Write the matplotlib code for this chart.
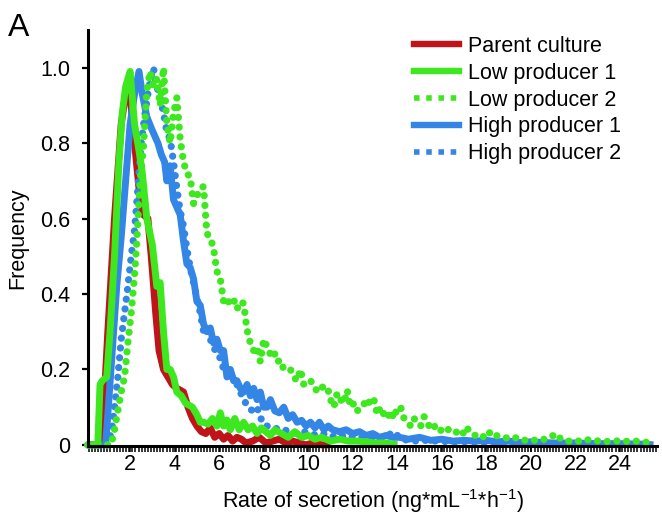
import matplotlib
matplotlib.use("Agg")
import matplotlib.pyplot as plt
from matplotlib.ticker import MultipleLocator, FixedLocator
from matplotlib.lines import Line2D

plt.rcParams['font.family'] = ['Liberation Sans', 'DejaVu Sans']

# ---- data (x = rate of secretion, y = normalised frequency) ----
parent = [(0.1, 0), (0.65, 0), (0.8, 0.08), (1.0, 0.3), (1.3, 0.6), (1.6, 0.85), (1.8, 0.93),
          (1.95, 0.96), (2.2, 0.8), (2.45, 0.65), (2.6, 0.61), (2.8, 0.6), (2.95, 0.5),
          (3.15, 0.35), (3.3, 0.25), (3.5, 0.2), (3.7, 0.18), (3.9, 0.16), (4.1, 0.15),
          (4.4, 0.14), (4.6, 0.1), (4.8, 0.07), (5.0, 0.05), (5.2, 0.035), (5.4, 0.03),
          (5.6, 0.045), (5.8, 0.02), (6.0, 0.03), (6.2, 0.015), (6.4, 0.025), (6.6, 0.01),
          (6.8, 0.02), (7.0, 0.015), (7.2, 0.005), (7.5, 0.01), (7.8, 0.02), (8.1, 0.005),
          (8.4, 0.01), (8.7, 0.015), (9.0, 0.005), (9.3, 0.01), (9.6, 0.005), (9.9, 0.0),
          (10.2, 0.005), (10.6, 0.0), (11.0, 0.0)]

low1 = [(0.1, 0), (0.55, 0), (0.65, 0.16), (0.75, 0.17), (0.95, 0.18), (1.1, 0.3), (1.3, 0.5),
        (1.5, 0.75), (1.65, 0.88), (1.8, 0.95), (2.0, 0.99), (2.2, 0.85), (2.4, 0.78),
        (2.55, 0.72), (2.75, 0.6), (3.0, 0.53), (3.2, 0.42), (3.35, 0.43), (3.5, 0.3),
        (3.65, 0.2), (3.8, 0.2), (3.95, 0.18), (4.1, 0.14), (4.3, 0.13), (4.5, 0.11),
        (4.8, 0.1), (5.0, 0.08), (5.15, 0.06), (5.3, 0.06), (5.5, 0.055), (5.7, 0.07),
        (5.9, 0.05), (6.05, 0.085), (6.2, 0.05), (6.35, 0.066), (6.5, 0.04), (6.7, 0.07),
        (6.9, 0.04), (7.1, 0.06), (7.3, 0.04), (7.5, 0.05), (7.7, 0.03), (7.9, 0.045),
        (8.1, 0.035), (8.3, 0.025), (8.5, 0.04), (8.8, 0.03), (9.1, 0.02), (9.4, 0.035),
        (9.7, 0.02), (10.0, 0.025), (10.3, 0.015), (10.6, 0.02), (11.0, 0.01), (11.4, 0.015),
        (11.8, 0.01), (12.2, 0.01), (12.6, 0.008), (13.0, 0.005), (13.5, 0.005), (14.0, 0.0)]

low2 = [(0.1, 0), (1.15, 0), (1.3, 0.04), (1.45, 0.09), (1.6, 0.14), (1.75, 0.18), (1.9, 0.27),
        (2.05, 0.35), (2.2, 0.45), (2.3, 0.54), (2.45, 0.7), (2.6, 0.79), (2.75, 0.94),
        (2.9, 0.99), (3.05, 0.95), (3.2, 0.97), (3.35, 0.9), (3.5, 1.0), (3.65, 0.85),
        (3.8, 0.8), (3.95, 0.88), (4.1, 0.92), (4.25, 0.81), (4.4, 0.75), (4.55, 0.72),
        (4.7, 0.71), (4.85, 0.64), (5.0, 0.66), (5.15, 0.68), (5.3, 0.685), (5.45, 0.56),
        (5.6, 0.55), (5.75, 0.52), (5.9, 0.46), (6.05, 0.44), (6.2, 0.38), (6.35, 0.37),
        (6.5, 0.39), (6.65, 0.385), (6.8, 0.36), (6.95, 0.38), (7.1, 0.375), (7.25, 0.305),
        (7.4, 0.27), (7.55, 0.25), (7.7, 0.26), (7.85, 0.22), (8.0, 0.28), (8.15, 0.26),
        (8.3, 0.24), (8.45, 0.25), (8.6, 0.22), (8.75, 0.225), (8.9, 0.2), (9.05, 0.2),
        (9.2, 0.2), (9.35, 0.18), (9.5, 0.17), (9.65, 0.2), (9.8, 0.16), (9.95, 0.16),
        (10.1, 0.17), (10.25, 0.16), (10.4, 0.14), (10.55, 0.15), (10.7, 0.155),
        (10.85, 0.155), (11.0, 0.12), (11.15, 0.1), (11.3, 0.137), (11.45, 0.12),
        (11.6, 0.11), (11.75, 0.145), (11.9, 0.1), (12.05, 0.11), (12.2, 0.09), (12.35, 0.1),
        (12.5, 0.11), (12.65, 0.1), (12.8, 0.125), (12.95, 0.12), (13.1, 0.08), (13.25, 0.1),
        (13.4, 0.08), (13.55, 0.07), (13.7, 0.09), (13.85, 0.07), (14.0, 0.1), (14.15, 0.1),
        (14.3, 0.07), (14.45, 0.06), (14.6, 0.05), (14.75, 0.07), (14.9, 0.06), (15.05, 0.05),
        (15.2, 0.075), (15.35, 0.06), (15.5, 0.04), (15.7, 0.05), (15.9, 0.035), (16.1, 0.048),
        (16.3, 0.04), (16.5, 0.03), (16.7, 0.035), (16.9, 0.025), (17.1, 0.048), (17.3, 0.03),
        (17.5, 0.025), (17.7, 0.03), (17.9, 0.02), (18.1, 0.035), (18.3, 0.02), (18.5, 0.025),
        (18.8, 0.02), (19.1, 0.015), (19.4, 0.02), (19.7, 0.012), (20.0, 0.015), (20.3, 0.01),
        (20.6, 0.015), (20.9, 0.02), (21.1, 0.03), (21.4, 0.012), (21.7, 0.01), (22.0, 0.012),
        (22.3, 0.008), (22.6, 0.014), (22.9, 0.01), (23.2, 0.012), (23.5, 0.008), (23.8, 0.01),
        (24.1, 0.012), (24.4, 0.008), (24.7, 0.01), (25.0, 0.008), (25.3, 0.006), (25.5, 0.0)]

high1 = [(0.1, 0), (0.9, 0), (1.0, 0.08), (1.2, 0.25), (1.4, 0.42), (1.6, 0.55), (1.8, 0.7),
         (2.0, 0.85), (2.2, 0.93), (2.4, 0.99), (2.55, 0.93), (2.75, 0.87), (2.95, 0.84),
         (3.1, 0.82), (3.25, 0.8), (3.4, 0.77), (3.55, 0.75), (3.65, 0.7), (3.8, 0.74),
         (3.95, 0.65), (4.1, 0.63), (4.25, 0.61), (4.4, 0.54), (4.55, 0.48), (4.7, 0.47),
         (4.85, 0.44), (5.0, 0.38), (5.15, 0.37), (5.3, 0.32), (5.45, 0.3), (5.6, 0.31),
         (5.75, 0.27), (5.9, 0.28), (6.05, 0.25), (6.2, 0.25), (6.35, 0.18), (6.5, 0.2),
         (6.65, 0.17), (6.8, 0.17), (6.95, 0.15), (7.1, 0.14), (7.25, 0.16), (7.4, 0.13),
         (7.55, 0.15), (7.7, 0.12), (7.85, 0.14), (8.0, 0.1), (8.15, 0.1), (8.3, 0.12),
         (8.5, 0.09), (8.7, 0.085), (8.9, 0.1), (9.1, 0.07), (9.3, 0.08), (9.5, 0.06),
         (9.7, 0.065), (9.9, 0.05), (10.1, 0.06), (10.3, 0.045), (10.5, 0.06), (10.7, 0.04),
         (10.9, 0.05), (11.1, 0.04), (11.4, 0.035), (11.7, 0.04), (12.0, 0.03), (12.3, 0.035),
         (12.6, 0.025), (12.9, 0.03), (13.2, 0.02), (13.5, 0.025), (13.8, 0.02), (14.1, 0.02),
         (14.5, 0.015), (15.0, 0.02), (15.5, 0.012), (16.0, 0.015), (16.5, 0.01), (17.0, 0.012),
         (17.5, 0.01), (18.0, 0.012), (18.5, 0.008), (19.0, 0.01), (19.5, 0.006), (20.0, 0.008),
         (21.0, 0.005), (22.0, 0.005), (23.0, 0.003), (24.0, 0.003), (25.0, 0.002), (25.5, 0.0)]

high2 = [(0.1, 0), (1.0, 0), (1.1, 0.02), (1.2, 0.05), (1.3, 0.1), (1.45, 0.18), (1.6, 0.28),
         (1.75, 0.35), (1.9, 0.42), (2.05, 0.5), (2.2, 0.57), (2.35, 0.68), (2.5, 0.8),
         (2.65, 0.87), (2.8, 0.93), (2.95, 0.98), (3.05, 1.0), (3.2, 0.95), (3.35, 0.92),
         (3.5, 0.88), (3.65, 0.83), (3.8, 0.81), (3.95, 0.75), (4.1, 0.68), (4.25, 0.62),
         (4.4, 0.58), (4.55, 0.52), (4.7, 0.47), (4.85, 0.43), (5.0, 0.39), (5.15, 0.35),
         (5.3, 0.3), (5.45, 0.31), (5.6, 0.28), (5.75, 0.26), (5.9, 0.24), (6.05, 0.23),
         (6.2, 0.2), (6.35, 0.19), (6.5, 0.17), (6.65, 0.18), (6.8, 0.16), (6.95, 0.14),
         (7.1, 0.12), (7.3, 0.1), (7.5, 0.09), (7.7, 0.1), (7.9, 0.066), (8.1, 0.05),
         (8.3, 0.05), (8.5, 0.045), (8.7, 0.04), (8.9, 0.04), (9.2, 0.035), (9.5, 0.03),
         (9.8, 0.035), (10.1, 0.03), (10.4, 0.025), (10.8, 0.03), (11.2, 0.02), (11.6, 0.025),
         (12.0, 0.02), (12.5, 0.02), (13.0, 0.015), (13.5, 0.02), (13.8, 0.035), (14.2, 0.015),
         (14.7, 0.01), (15.2, 0.012), (15.8, 0.01), (16.5, 0.008), (17.2, 0.008), (18.0, 0.006),
         (19.0, 0.005), (20.0, 0.004), (21.0, 0.003), (22.0, 0.003), (23.0, 0.002),
         (24.0, 0.002), (25.0, 0.0)]

labels = ["Parent culture", "Low producer 1", "Low producer 2", "High producer 1", "High producer 2"]
x_ticks = [2, 4, 6, 8, 10, 12, 14, 16, 18, 20, 22, 24]
y_ticks = [0, 0.2, 0.4, 0.6, 0.8, 1.0]
y_ticklabels = ["0", "0.2", "0.4", "0.6", "0.8", "1.0"]

RED = "#c0131a"
GREEN = "#3de81e"
BLUE = "#3486e6"

W, H = 662, 529
fig = plt.figure(figsize=(W / 100, H / 100), dpi=100)
ax = fig.add_axes([88 / W, 83 / H, (657 - 88) / W, (499 - 83) / H])

dot = (0, (0.01, 1.35))
series = [
    (parent, RED, '-', 2),
    (high1, BLUE, '-', 3),
    (high2, BLUE, dot, 4),
    (low1, GREEN, '-', 5),
    (low2, GREEN, dot, 6),
]
for data, col, ls, z in series:
    xs = [p[0] for p in data]
    ys = [p[1] for p in data]
    if ls == '-':
        ax.plot(xs, ys, color=col, lw=5.0, ls=ls, zorder=z, solid_joinstyle='round',
                solid_capstyle='butt', clip_on=False)
    else:
        ax.plot(xs, ys, color=col, lw=5.2, ls=ls, zorder=z, dash_capstyle='round',
                clip_on=False)

ax.set_xlim(0.11, 25.66)
ax.set_ylim(-0.003, 1.10)
for s in ['top', 'right']:
    ax.spines[s].set_visible(False)
for s in ['left', 'bottom']:
    ax.spines[s].set_linewidth(2.2)
    ax.spines[s].set_zorder(10)

ax.xaxis.set_major_locator(FixedLocator(x_ticks))
ax.xaxis.set_minor_locator(MultipleLocator(0.14))
ax.set_xticks(x_ticks)
ax.set_xticklabels([str(t) for t in x_ticks])
ax.set_yticks(y_ticks)
ax.set_yticklabels(y_ticklabels)
ax.tick_params(axis='x', which='both', direction='out', length=4, width=1.1, pad=1.5,
               labelsize=15.5)
ax.tick_params(axis='y', which='major', direction='out', length=4, width=1.6, pad=9,
               labelsize=15.5)

ax.set_xlabel(r"Rate of secretion (ng*mL$^{\mathregular{-1}}$*h$^{\mathregular{-1}}$)",
              fontsize=15.5, labelpad=9)
ax.set_ylabel("Frequency", fontsize=15.5, labelpad=8)

handles = [
    Line2D([], [], color=RED, lw=4.6),
    Line2D([], [], color=GREEN, lw=4.6),
    Line2D([], [], color=GREEN, lw=4, ls=(0, (1, 1.2))),
    Line2D([], [], color=BLUE, lw=4.6),
    Line2D([], [], color=BLUE, lw=4, ls=(0, (1, 1.2))),
]
fig.legend(handles, labels, loc='upper left', bbox_to_anchor=(414 / W, 1 - 36 / H),
           frameon=False, fontsize=15.5, handlelength=2.1, handletextpad=0.4,
           labelspacing=0.27, borderpad=0, borderaxespad=0)

fig.text(8 / W, 1 - 36 / H, "A", fontsize=23, ha='left', va='baseline')

fig.savefig("out.png", dpi=100)
